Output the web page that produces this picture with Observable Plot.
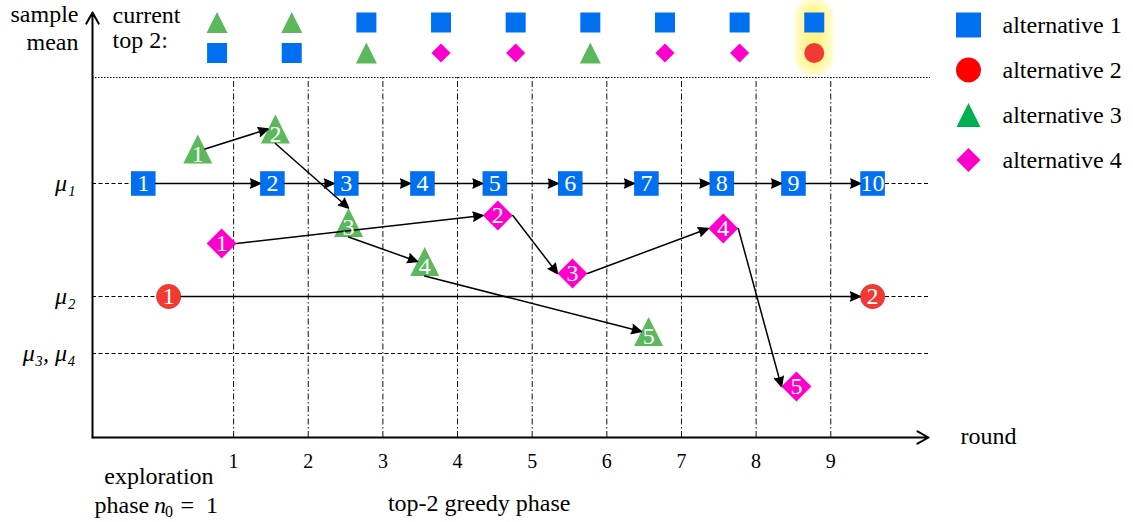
<!DOCTYPE html>
<html><head><meta charset="utf-8">
<script src="https://cdn.jsdelivr.net/npm/d3@7"></script>
<script src="https://cdn.jsdelivr.net/npm/@observablehq/plot@0.6"></script>
<style>
html,body{margin:0;padding:0;background:#fff;overflow:hidden}
</style></head><body><div id="chart"></div>
<script>
// ---------------- data ----------------
const rounds = [1, 2, 3, 4, 5, 6, 7, 8, 9];
const tickLabels = ["1", "2", "3", "4", "5", "6", "7", "8", "9"];
const muValues = [2.54, 1.41, 0.84];
const muNames = ["μ₁", "μ₂", "μ₃, μ₄"];

// sample-mean trajectories (x = position along the round axis, y = sample mean)
const alt1X = [-0.21, 1.52, 2.51, 3.53, 4.5, 5.51, 6.53, 7.54, 8.5, 9.56];
const alt1Y = [2.54, 2.54, 2.54, 2.54, 2.54, 2.54, 2.54, 2.54, 2.54, 2.54];
const alt2X = [0.13, 9.56];
const alt2Y = [1.41, 1.41];
const alt3X = [0.52, 1.56, 2.54, 3.56, 6.56];
const alt3Y = [2.885, 3.085, 2.15, 1.76, 1.06];
const alt4X = [0.84, 4.54, 5.54, 7.56, 8.54];
const alt4Y = [1.94, 2.22, 1.64, 2.09, 0.51];

// current top 2 per round (alternative numbers)
const topFirst = [3, 3, 1, 1, 1, 1, 1, 1, 1];
const topSecond = [1, 1, 3, 4, 4, 3, 4, 4, 2];
const highlightRound = 9;

const legendLabels = ["alternative 1", "alternative 2", "alternative 3", "alternative 4"];

// ---------------- styles ----------------
const W = 1133, H = 522;
const M = {top: 77, right: 203, bottom: 85, left: 92};
const xDomain = [-0.89, 10.336];
const yDomain = [0, 3.6];
const pxX = (W - M.left - M.right) / (xDomain[1] - xDomain[0]);
const pxY = (H - M.top - M.bottom) / (yDomain[1] - yDomain[0]);
const FONT = "Liberation Serif, Tinos, Times New Roman, DejaVu Serif, serif";

const SQ = {draw(c, s) { const r = Math.sqrt(s / Math.PI); c.rect(-r, -r, 2 * r, 2 * r); }};
const CI = {draw(c, s) { const r = Math.sqrt(s / Math.PI); c.moveTo(r, 0); c.arc(0, 0, r, 0, 2 * Math.PI); }};
const TR = {draw(c, s) { const r = Math.sqrt(s / Math.PI); c.moveTo(0, -r); c.lineTo(r, r); c.lineTo(-r, r); c.closePath(); }};
const DI = {draw(c, s) { const r = Math.sqrt(s / Math.PI); c.moveTo(0, -r); c.lineTo(r, 0); c.lineTo(0, r); c.lineTo(-r, 0); c.closePath(); }};

const shapes = [SQ, CI, TR, DI];
const kinds = ["square", "circle", "triangle", "diamond"];
const chartColors = ["#0070f0", "#ef3b33", "#5cb85c", "#ff00cc"];
const legendColors = ["#0070f0", "#ff0000", "#00b050", "#ff00cc"];
const chartR = [12.3, 12.5, 14.5, 15];
const topR = [10, 10, 10.5, 9.6];
const legendR = [12.5, 12.5, 12, 12];
const digitDy = [0, 0, 5, 0];
const arrowAnchors = [null, null,
  [["east", "west"], ["south", "north"], ["south", "west"], ["south", "west"]],
  null];

function anchorOffset(kind, r, name) {
  if (kind === "triangle") {
    return {east: [r / 2, 0], west: [-r / 2, 0], south: [0, r], north: [0, -r]}[name];
  }
  return {east: [r, 0], west: [-r, 0], south: [0, r], north: [0, -r]}[name];
}

const series = [[alt1X, alt1Y], [alt2X, alt2Y], [alt3X, alt3Y], [alt4X, alt4Y]];
const points = series.map(([xs, ys]) => xs.map((x, i) => ({x, y: ys[i], n: i + 1})));

const arrows = [];
points.forEach((pts, a) => {
  for (let j = 0; j + 1 < pts.length; ++j) {
    const [s, e] = arrowAnchors[a] ? arrowAnchors[a][j] : ["east", "west"];
    const o1 = anchorOffset(kinds[a], chartR[a], s);
    const o2 = anchorOffset(kinds[a], chartR[a], e);
    arrows.push({
      x1: pts[j].x + o1[0] / pxX, y1: pts[j].y - o1[1] / pxY,
      x2: pts[j + 1].x + o2[0] / pxX, y2: pts[j + 1].y - o2[1] / pxY
    });
  }
});

const topRows = [];
rounds.forEach((k, i) => {
  topRows.push({round: k, alt: topFirst[i], row: 0});
  topRows.push({round: k, alt: topSecond[i], row: 1});
});
const topRowY = [4.15, 3.845];
const topDx = -16.5;

const legendItems = legendLabels.map((label, i) => ({label, i, y: 4.125 - i * 0.45}));

const marks = [];
// highlight glow (stacked translucent rounded rectangles)
for (let k = 0; k < 10; ++k) {
  marks.push(Plot.rect([highlightRound], {
    x1: d => d, x2: d => d, y1: 3.73, y2: 4.27,
    insetLeft: -(-topDx + 7 + k * 1.6), insetRight: -topDx - 7 - k * 1.6,
    insetTop: -k * 1.5, insetBottom: -k * 1.5,
    rx: 7 + k * 1.6, fill: "#fff04a", fillOpacity: 0.095
  }));
}
// grid lines
marks.push(Plot.ruleX(rounds, {x: d => d, y1: 0, y2: yDomain[1], stroke: "#111", strokeWidth: 1, strokeDasharray: "6,2.5,1.5,2.5"}));
marks.push(Plot.ruleY(muValues, {y: d => d, x1: xDomain[0], x2: xDomain[1], stroke: "#000", strokeWidth: 1.2, strokeDasharray: "4,2.5"}));
marks.push(Plot.ruleY([yDomain[1]], {y: d => d, x1: xDomain[0], x2: xDomain[1], stroke: "#000", strokeWidth: 1.2, strokeDasharray: "1.5,1.5"}));
// axes lines with arrow heads
marks.push(Plot.arrow([0], {x1: xDomain[0], y1: 0, x2: 10.31, y2: 0, stroke: "#000", strokeWidth: 2, headLength: 9.5, headAngle: 58}));
marks.push(Plot.arrow([0], {x1: xDomain[0], y1: 0, x2: xDomain[0], y2: 4.25, stroke: "#000", strokeWidth: 2, headLength: 9.5, headAngle: 58}));
marks.push(Plot.axisX(rounds, {tickSize: 0, tickPadding: 16, fontSize: 20, fontFamily: FONT, label: null, tickFormat: d => tickLabels[rounds.indexOf(d)]}));
marks.push(Plot.axisY(muValues, {tickSize: 0, tickPadding: 17, fontSize: 24, fontFamily: FONT, fontStyle: "italic", label: null, tickFormat: d => muNames[muValues.indexOf(d)]}));

// symbols
points.forEach((pts, a) => {
  marks.push(Plot.dot(pts, {x: "x", y: "y", symbol: shapes[a], r: chartR[a], fill: chartColors[a], stroke: "none"}));
});
// connecting arrows
marks.push(Plot.arrow(arrows, {x1: "x1", y1: "y1", x2: "x2", y2: "y2", stroke: "#000", fill: "#000", strokeWidth: 1.5, headLength: 10.5, headAngle: 50}));
// numbers in symbols
points.forEach((pts, a) => {
  marks.push(Plot.text(pts, {x: "x", y: "y", text: d => String(d.n), fill: "white", fontSize: 24, fontFamily: FONT, dy: digitDy[a]}));
});

// current top 2 row
[0, 1, 2, 3].forEach(a => {
  marks.push(Plot.dot(topRows.filter(d => d.alt === a + 1), {
    x: "round", y: d => topRowY[d.row], dx: topDx, symbol: shapes[a], r: topR[a], fill: chartColors[a], stroke: "none"
  }));
});

// text labels
const T = {fontFamily: FONT, fontSize: 24, fill: "#000"};
marks.push(Plot.text(["sample\nmean"], {...T, x: xDomain[0], y: 3.88, text: d => d, dx: -14, textAnchor: "end", lineAnchor: "bottom", lineHeight: 1.15}));
marks.push(Plot.text(["current\ntop 2:"], {...T, x: xDomain[0], y: 3.895, text: d => d, dx: 20, textAnchor: "start", lineAnchor: "bottom", lineHeight: 1.04}));
marks.push(Plot.text(["round"], {...T, x: xDomain[1], y: 0, text: d => d, dx: 30, dy: 6, textAnchor: "start", lineAnchor: "bottom"}));
marks.push(Plot.text(["exploration"], {...T, x: 0, y: 0, text: d => d, dy: 46, textAnchor: "middle", lineAnchor: "bottom"}));
marks.push(Plot.text(["phase"], {...T, x: 0, y: 0, text: d => d, dx: -64.4, dy: 75, textAnchor: "start", lineAnchor: "bottom"}));
marks.push(Plot.text(["n"], {...T, x: 0, y: 0, text: d => d, dx: -5, dy: 75, textAnchor: "start", lineAnchor: "bottom", fontStyle: "italic"}));
marks.push(Plot.text(["0"], {...T, fontSize: 16, x: 0, y: 0, text: d => d, dx: 6, dy: 79, textAnchor: "start", lineAnchor: "bottom"}));
marks.push(Plot.text(["="], {...T, x: 0, y: 0, text: d => d, dx: 21.5, dy: 75, textAnchor: "start", lineAnchor: "bottom"}));
marks.push(Plot.text(["1"], {...T, x: 0, y: 0, text: d => d, dx: 47, dy: 75, textAnchor: "start", lineAnchor: "bottom"}));
marks.push(Plot.text(["top-2 greedy phase"], {...T, x: 4.29, y: 0, text: d => d, dy: 73, textAnchor: "middle", lineAnchor: "bottom"}));

// legend
legendItems.forEach(d => {
  marks.push(Plot.dot([d], {x: xDomain[1], y: "y", dx: 38, symbol: shapes[d.i], r: legendR[d.i], fill: legendColors[d.i], stroke: "none"}));
});
marks.push(Plot.text(legendItems, {...T, x: xDomain[1], y: "y", text: "label", dx: 72, textAnchor: "start"}));

const chart = Plot.plot({
  width: W, height: H,
  marginTop: M.top, marginRight: M.right, marginBottom: M.bottom, marginLeft: M.left,
  x: {domain: xDomain},
  y: {domain: yDomain},
  style: {fontFamily: FONT, fontSize: "24px", color: "black", background: "white", overflow: "visible"},
  marks
});

document.getElementById("chart").appendChild(chart);
</script>
</body></html>
